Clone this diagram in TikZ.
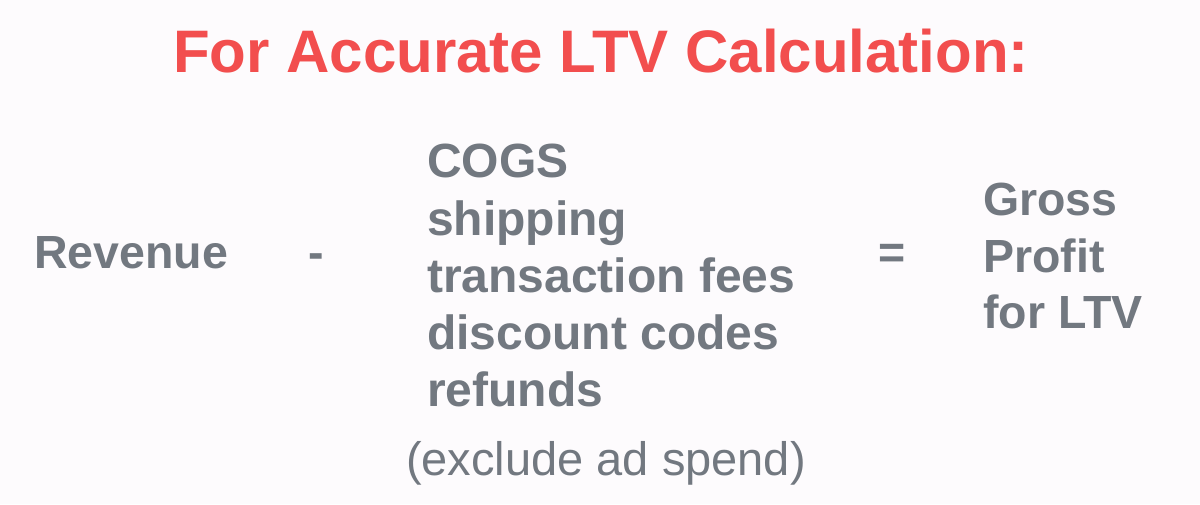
\documentclass[tikz,border=0pt]{standalone}
\usepackage{fontspec}
\setmainfont{Liberation Sans}
\definecolor{bgc}{HTML}{FDFBFD}
\definecolor{redt}{HTML}{F24E4E}
\definecolor{grayt}{HTML}{727880}
\begin{document}
\begin{tikzpicture}[x=1pt,y=-1pt,
  title/.style={anchor=base,inner sep=0pt,text=redt,font=\bfseries\fontsize{60}{70}\selectfont},
  term/.style={anchor=base west,inner sep=0pt,text=grayt,font=\bfseries\fontsize{46.5}{56}\selectfont},
  lst/.style={term,font=\bfseries\fontsize{48}{56}\selectfont},
  op/.style={anchor=base,inner sep=0pt,text=grayt,font=\bfseries\fontsize{46.5}{56}\selectfont},
  note/.style={anchor=base,inner sep=0pt,text=grayt,font=\fontsize{47}{54}\selectfont}]
\fill[bgc] (0,0) rectangle (1200,504);
\useasboundingbox (0,0) rectangle (1200,504);
\node[title] (t) at (601,72) {For Accurate LTV Calculation:};
\node[term] (rev) at (34,268) {Revenue};
\node[op] (minus) at (316,268) {-};
\node[lst] (c1) at (427,177) {COGS};
\node[lst] (c2) at (427,235) {shipping};
\node[lst] (c3) at (427,292) {transaction fees};
\node[lst] (c4) at (427,349) {discount codes};
\node[lst] (c5) at (427,406) {refunds};
\node[op] (eq) at (892,268) {=};
\node[term] (g1) at (983,215) {Gross};
\node[term] (g2) at (983,272) {Profit};
\node[term] (g3) at (983,328) {for LTV};
\node[note] (ex) at (606,475) {(exclude ad spend)};
\end{tikzpicture}
\end{document}
